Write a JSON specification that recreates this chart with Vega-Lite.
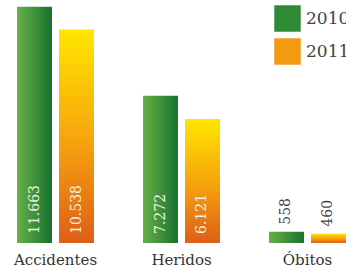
{
  "$schema": "https://vega.github.io/schema/vega-lite/v6.json",
  "width": 346,
  "height": 243,
  "padding": {"left": 0, "top": 0, "right": 0, "bottom": 29},
  "autosize": "none",
  "background": "white",
  "config": {"view": {"stroke": null}, "font": "DejaVu Serif"},
  "data": {"values": [
    {"cat": "Accidentes", "year": "2010", "value": 11663, "label": "11.663"},
    {"cat": "Accidentes", "year": "2011", "value": 10538, "label": "10.538"},
    {"cat": "Heridos", "year": "2010", "value": 7272, "label": "7.272"},
    {"cat": "Heridos", "year": "2011", "value": 6121, "label": "6.121"},
    {"cat": "Óbitos", "year": "2010", "value": 558, "label": "558"},
    {"cat": "Óbitos", "year": "2011", "value": 460, "label": "460"}
  ]},
  "encoding": {
    "x": {
      "field": "cat", "type": "nominal", "sort": ["Accidentes", "Heridos", "Óbitos"], "title": null,
      "scale": {"range": [0, 363], "paddingInner": 0.389, "paddingOuter": 0.135},
      "axis": {"domain": false, "ticks": false, "labelAngle": 0, "labelPadding": 9, "labelFont": "DejaVu Serif", "labelFontSize": 15, "labelColor": "#333333"}
    },
    "xOffset": {"field": "year", "type": "nominal", "scale": {"paddingInner": 0.167, "paddingOuter": 0}},
    "y": {"field": "value", "type": "quantitative", "scale": {"domain": [0, 12000]}, "axis": null}
  },
  "layer": [
    {
      "transform": [{"filter": "datum.year == '2010'"}],
      "mark": {"type": "bar", "color": {"gradient": "linear", "x1": 0, "y1": 0, "x2": 1, "y2": 0, "stops": [{"offset": 0, "color": "#66b046"}, {"offset": 1, "color": "#18722f"}]}}
    },
    {
      "transform": [{"filter": "datum.year == '2011'"}],
      "mark": {"type": "bar", "color": {"gradient": "linear", "x1": 0, "y1": 0, "x2": 0, "y2": 1, "stops": [{"offset": 0, "color": "#ffe600"}, {"offset": 0.5, "color": "#f7a60c"}, {"offset": 1, "color": "#de5e17"}]}}
    },
    {
      "mark": {"type": "square", "size": 0, "opacity": 1},
      "encoding": {
        "color": {
          "field": "year", "type": "nominal",
          "scale": {"domain": ["2010", "2011"], "range": ["#2f8a35", "#f39a10"]},
          "legend": {
            "title": null, "orient": "none", "legendX": 274, "legendY": 5, "symbolType": "square", "symbolSize": 700, "symbolStrokeWidth": 0, "rowPadding": 6,
            "labelFont": "DejaVu Serif", "labelFontSize": 17, "labelColor": "#444444", "labelOffset": 5,
            "encode": {"symbols": {"enter": {
              "fill": [
                {"test": "datum.value == '2010'", "value": {"gradient": "linear", "x1": 0, "y1": 0, "x2": 0, "y2": 1, "stops": [{"offset": 0, "color": "#6ab244"}, {"offset": 1, "color": "#145f28"}]}},
                {"value": {"gradient": "linear", "x1": 0, "y1": 0, "x2": 0, "y2": 1, "stops": [{"offset": 0, "color": "#ffe600"}, {"offset": 0.5, "color": "#f7a60c"}, {"offset": 1, "color": "#de5e17"}]}}
              ]
            }, "update": {
              "size": {"value": 700},
              "opacity": {"value": 1},
              "fill": [
                {"test": "datum.value == '2010'", "value": {"gradient": "linear", "x1": 0, "y1": 0, "x2": 0, "y2": 1, "stops": [{"offset": 0, "color": "#6ab244"}, {"offset": 1, "color": "#145f28"}]}},
                {"value": {"gradient": "linear", "x1": 0, "y1": 0, "x2": 0, "y2": 1, "stops": [{"offset": 0, "color": "#ffe600"}, {"offset": 0.5, "color": "#f7a60c"}, {"offset": 1, "color": "#de5e17"}]}}
              ]
            }}}
          }
        }
      }
    },
    {
      "transform": [{"filter": "datum.cat != 'Óbitos'"}],
      "mark": {"type": "text", "angle": 270, "align": "left", "baseline": "middle", "dx": 9, "color": "#eef2e4", "font": "DejaVu Serif", "fontSize": 14},
      "encoding": {"y": {"datum": 0, "type": "quantitative"}, "text": {"field": "label"}}
    },
    {
      "transform": [{"filter": "datum.cat == 'Óbitos'"}],
      "mark": {"type": "text", "angle": 270, "align": "left", "baseline": "middle", "dx": 7, "color": "#444444", "font": "DejaVu Serif", "fontSize": 14},
      "encoding": {"text": {"field": "label"}}
    }
  ]
}
